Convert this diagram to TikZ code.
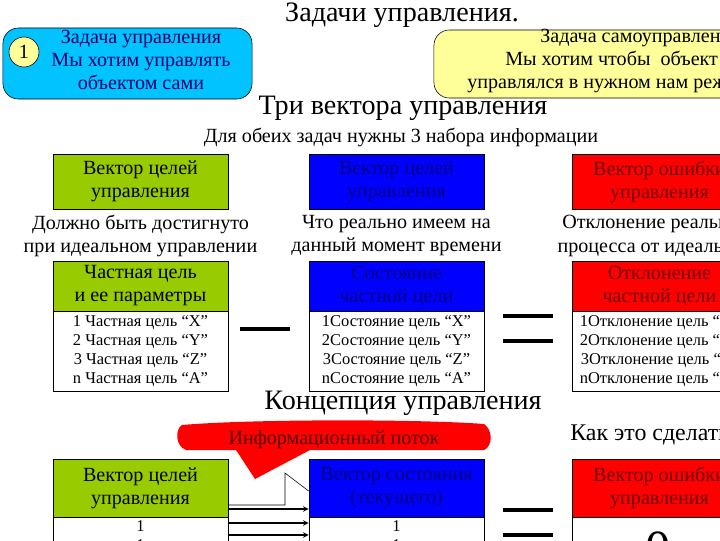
\documentclass[tikz,border=0pt]{standalone}
\usepackage{fontspec}
\setmainfont{Liberation Serif}
\usetikzlibrary{arrows}

\definecolor{skyblue}{RGB}{0,195,255}
\definecolor{paleyellow}{RGB}{255,255,153}
\definecolor{vgreen}{RGB}{153,204,0}
\definecolor{vblue}{RGB}{0,0,255}
\definecolor{vred}{RGB}{255,0,0}
\definecolor{navytext}{RGB}{0,0,110}
\definecolor{dkbluetext}{RGB}{0,0,130}
\definecolor{dkredtext}{RGB}{110,0,0}
\definecolor{flowtext}{RGB}{85,0,0}

\tikzset{
  vechead/.style={draw=black, line width=0.5pt, minimum width=4.375cm, minimum height=1.375cm,
    inner sep=0pt, align=center, font=\fontsize{14.3}{16.4}\selectfont},
  parthead/.style={vechead, minimum height=1.25cm},
  listbox/.style={draw=black, line width=0.5pt, fill=white, minimum width=4.375cm, minimum height=2cm,
    inner sep=0pt, align=center, font=\fontsize{11.7}{13.5}\selectfont},
  note/.style={align=center, font=\fontsize{14.3}{16.4}\selectfont},
  bigtitle/.style={font=\fontsize{20}{24}\selectfont},
  flow/.style={->, >=stealth, line width=0.8pt},
  sign/.style={line width=3.5pt},
}

\begin{document}
\begin{tikzpicture}[x=0.025cm, y=-0.025cm]
    \useasboundingbox (0,0) rectangle (720,540);
    \clip (0,0) rectangle (720,540);

    % --- TOP: TWO TASKS ---
    \node[bigtitle] (title) at (402,15) {Задачи управления.};

    \node[draw=black, fill=skyblue, rounded corners=11pt, minimum width=6.225cm, minimum height=1.775cm] (task1) at (127.5,63.5) {};
    \node[draw=black, fill=paleyellow, circle, minimum size=0.75cm, inner sep=0pt, font=\fontsize{14.3}{16}\selectfont] (num1) at (24,52) {1};
    \node[note, text=navytext] (task1txt) at (141,60) {Задача управления\\Мы хотим управлять\\объектом сами};

    \node[draw=black, fill=paleyellow, rounded corners=11pt, minimum width=8.15cm, minimum height=1.7cm] (task2) at (597,64) {};
    \node[font=\fontsize{14.3}{16.4}\selectfont, anchor=base west, inner sep=0pt] (task2a) at (540,42) {Задача самоуправления};
    \node[font=\fontsize{14.3}{16.4}\selectfont, anchor=base west, inner sep=0pt] (task2b) at (505,65) {Мы хотим чтобы\ \ объект};
    \node[font=\fontsize{14.3}{16.4}\selectfont, anchor=base west, inner sep=0pt] (task2c) at (467,88) {управлялся в нужном нам режиме};

    % --- THREE VECTORS ---
    \node[bigtitle] (vectitle) at (403,108) {Три вектора управления};
    \node[note] (vecsub) at (401,137) {Для обеих задач нужны 3 набора информации};

    % Goals
    \begin{scope}
        \node[vechead, fill=vgreen] (gv) at (140.5,181.5) {Вектор целей\\управления};
        \node[note] (gnote) at (140.5,236) {Должно быть достигнуто\\при идеальном управлении};
        \node[parthead, fill=vgreen] (gp) at (140.5,286) {Частная цель\\и ее параметры};
        \node[listbox] (gl) at (140.5,351) {1 Частная цель “X”\\2 Частная цель “Y”\\3 Частная цель “Z”\\n Частная цель “A”};
    \end{scope}

    % State
    \begin{scope}
        \node[vechead, fill=vblue, text=dkbluetext] (bv) at (396.5,181.5) {Вектор целей\\управления};
        \node[note] (bnote) at (396.5,236) {Что реально имеем на\\данный момент времени};
        \node[parthead, fill=vblue, text=dkbluetext] (bp) at (396.5,286) {Состояние\\частной цели};
        \node[listbox] (bl) at (396.5,351) {1Состояние цель “X”\\2Состояние цель “Y”\\3Состояние цель “Z”\\nСостояние цель “A”};
    \end{scope}

    % Error
    \begin{scope}
        \node[vechead, fill=vred, text=dkredtext] (rv) at (659.5,181.5) {Вектор ошибки\\управления};
        \node[note] (rnote) at (659.5,236) {Отклонение реального\\процесса от идеального};
        \node[parthead, fill=vred, text=dkredtext] (rp) at (659.5,286) {Отклонение\\частной цели};
        \node[listbox] (rl) at (659.5,351) {1Отклонение цель “X”\\2Отклонение цель “Y”\\3Отклонение цель “Z”\\nОтклонение цель “A”};
    \end{scope}

    % minus and equals
    \draw[sign] (240,329) -- (290,329);
    \draw[sign] (503,316) -- (553,316);
    \draw[sign] (503,341) -- (553,341);

    % --- CONCEPT ---
    \node[bigtitle] (conctitle) at (403,403) {Концепция управления};
    \node[font=\fontsize{17}{20}\selectfont, anchor=west, inner sep=0pt] (howto) at (570,435) {Как это сделать};

    % info flow callout
    \fill[vred] (182,425) .. controls (250,419) and (420,419) .. (484,424)
        .. controls (493,430) and (493,446) .. (484,450) -- (310,450) -- (255,479) -- (236,450)
        -- (186,450) .. controls (175,446) and (175,429) .. cycle;
    \node[note, text=flowtext] (infoflow) at (334,440) {Информационный поток};

    \node[vechead, fill=vgreen, minimum height=1.45cm] (gv2) at (140.5,488) {Вектор целей\\управления};
    \node[listbox, anchor=north] (gl2) at (gv2.south) {};
    \node[font=\fontsize{11.7}{13.5}\selectfont, align=center, anchor=north, inner sep=0pt] (gn2) at (140.5,520) {1\\1};

    \node[vechead, fill=vblue, text=dkbluetext, minimum height=1.45cm] (bv2) at (396.5,488) {Вектор состояния\\(текущего)};
    \node[listbox, anchor=north] (bl2) at (bv2.south) {};
    \node[font=\fontsize{11.7}{13.5}\selectfont, align=center, anchor=north, inner sep=0pt] (bn2) at (396.5,520) {1\\1};

    \node[vechead, fill=vred, text=dkredtext, minimum height=1.45cm] (rv2) at (659.5,488) {Вектор ошибки\\управления};
    \node[listbox, anchor=north] (rl2) at (rv2.south) {};
    \node[font=\fontsize{36}{40}\selectfont, anchor=north, inner sep=0pt] (rn2) at (658,532) {0};

    % flow lines
    \draw[thin] (gv2.east |- 0,505) -- (285,505) -- (285,473) -- (bv2.west |- 0,491);
    \draw[flow] (gv2.east |- 0,509) -- (bv2.west |- 0,509);
    \draw[flow] (gl2.east |- 0,523) -- (bl2.west |- 0,523);
    \draw[flow] (gl2.east |- 0,535) -- (bl2.west |- 0,535);

    \draw[sign] (503,510) -- (553,510);
    \draw[sign] (503,535) -- (553,535);
\end{tikzpicture}
\end{document}
